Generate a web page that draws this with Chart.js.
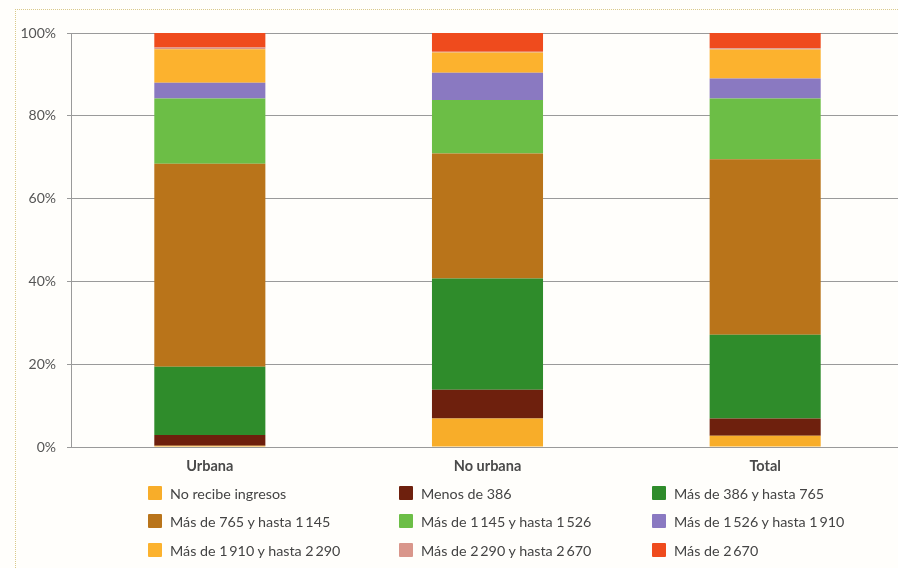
<!DOCTYPE html>
<html lang="es">
<head>
<meta charset="utf-8">
<title>Distribución por ingresos</title>
<script src="https://cdn.jsdelivr.net/npm/chart.js@4/dist/chart.umd.min.js"></script>
<style>
  html, body { margin: 0; padding: 0; background: #fff; overflow: hidden; }
  #wrap { position: relative; width: 898px; height: 568px; overflow: hidden; background: #fffefb; }
  #frame { position: absolute; left: 15px; top: 9px; width: 900px; height: 600px;
           border-left: 1px dotted #d9c98a; border-top: 1px dotted #d9c98a; }
  #chart { position: absolute; left: 0; top: 0; }
  #legend { position: absolute; left: 0; top: 0; width: 898px; height: 568px; pointer-events: none;
            font-family: Lato, "Open Sans", sans-serif; font-size: 14.3px; color: #444; }
  .item { position: absolute; display: flex; align-items: center; white-space: nowrap; }
  .sw { width: 14px; height: 14px; margin-right: 8px; border-radius: 1px; }
</style>
</head>
<body>
<div id="wrap">
  <div id="frame"></div>
  <canvas id="chart" width="904" height="568"></canvas>
  <div id="legend"></div>
</div>
<script>
// Zonas
const categories = ["Urbana", "No urbana", "Total"];

// Tramos de ingreso
const seriesNames = [
  "No recibe ingresos",
  "Menos de 386",
  "Más de 386 y hasta 765",
  "Más de 765 y hasta 1\u2009145",
  "Más de 1\u2009145 y hasta 1\u2009526",
  "Más de 1\u2009526 y hasta 1\u2009910",
  "Más de 1\u2009910 y hasta 2\u2009290",
  "Más de 2\u2009290 y hasta 2\u2009670",
  "Más de 2\u2009670"
];

// Porcentaje de cada tramo por zona (Urbana, No urbana, Total)
const noRecibe      = [0.3, 6.9, 2.7];
const menos386      = [2.6, 6.9, 4.2];
const de386a765     = [16.5, 26.9, 20.2];
const de765a1145    = [49.0, 30.2, 42.4];
const de1145a1526   = [15.8, 12.9, 14.7];
const de1526a1910   = [3.8, 6.6, 4.8];
const de1910a2290   = [8.1, 4.9, 7.0];
const de2290a2670   = [0.4, 0.2, 0.3];
const mas2670       = [3.5, 4.5, 3.7];

const yTicks = [0, 20, 40, 60, 80, 100];

const seriesValues = [noRecibe, menos386, de386a765, de765a1145, de1145a1526,
                      de1526a1910, de1910a2290, de2290a2670, mas2670];
const seriesColors = ["#f8ad29", "#6e200d", "#2f8c2b", "#b9741a", "#6cbe46",
                      "#8a79c1", "#fcb22e", "#d9968b", "#ef4b1d"];

const datasets = seriesNames.map((name, i) => ({
  label: name,
  data: seriesValues[i],
  backgroundColor: seriesColors[i],
  borderWidth: 0,
  barPercentage: 0.4,
  categoryPercentage: 1.0
}));

const chart = new Chart(document.getElementById("chart"), {
  type: "bar",
  data: { labels: categories, datasets },
  options: {
    responsive: false,
    animation: false,
    layout: { padding: { top: 33, left: 0, right: 0, bottom: 0 } },
    plugins: { legend: { display: false }, tooltip: { enabled: false }, title: { display: false } },
    scales: {
      x: {
        stacked: true,
        grid: { display: false, drawTicks: false },
        border: { display: false },
        ticks: {
          padding: 11,
          color: "#4a4a4a",
          font: { family: "Lato, 'Open Sans', sans-serif", size: 14.5, weight: "bold" }
        },
        afterFit: (s) => { s.height = 121; }
      },
      y: {
        stacked: true,
        min: 0,
        max: 100,
        afterBuildTicks: (s) => { s.ticks = yTicks.map(v => ({ value: v })); },
        grid: { color: "#9a9a9a", lineWidth: 1, tickLength: 4, drawTicks: true },
        border: { display: true, color: "#9a9a9a", width: 1 },
        ticks: {
          padding: 11,
          color: "#555",
          font: { family: "Lato, 'Open Sans', sans-serif", size: 14 },
          callback: (v) => v + "%"
        },
        afterFit: (s) => { s.width = 71; }
      }
    }
  }
});

// Leyenda en tres columnas
const legend = document.getElementById("legend");
const colX = [148, 399, 652];
const rowY = [493, 521, 550];
seriesNames.forEach((name, i) => {
  const el = document.createElement("div");
  el.className = "item";
  el.style.left = colX[i % 3] + "px";
  el.style.top = (rowY[Math.floor(i / 3)] - 9) + "px";
  el.style.height = "18px";
  const sw = document.createElement("span");
  sw.className = "sw";
  sw.style.background = seriesColors[i];
  const tx = document.createElement("span");
  tx.textContent = name;
  el.appendChild(sw);
  el.appendChild(tx);
  legend.appendChild(el);
});
</script>
</body>
</html>
